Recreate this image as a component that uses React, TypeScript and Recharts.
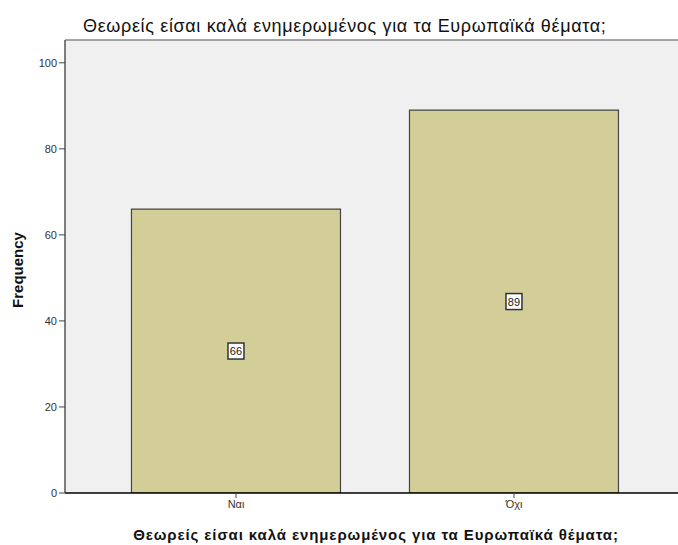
import { Bar, BarChart, CartesianGrid, LabelList, ReferenceLine, XAxis, YAxis } from "recharts";

const categories = ["Ναι", "Όχι"];
const frequencies = [66, 89];
const yTicks = [0, 20, 40, 60, 80, 100];
const title = "Θεωρείς είσαι καλά ενημερωμένος για τα Ευρωπαϊκά θέματα;";

const data = categories.map((name, i) => ({ name, value: frequencies[i] }));

const font = '"Liberation Sans", Arial, sans-serif';

function BoxLabel(props: any) {
  const { x, y, width, height, value } = props;
  const cx = x + width / 2;
  const cy = y + height / 2;
  return (
    <g>
      <rect x={cx - 8} y={cy - 8} width={16} height={16} fill="#fff" stroke="#333" strokeWidth={1.5} />
      <text x={cx} y={cy + 4} textAnchor="middle" fontSize={11} fill="#222" fontFamily={font}>
        {value}
      </text>
    </g>
  );
}

export default function App() {
  return (
    <div style={{ position: "absolute", left: 0, top: 0, width: 678, height: 545, background: "#fff" }}>
      <BarChart
        width={678}
        height={545}
        data={data}
        margin={{ top: 40, right: 0, bottom: 0, left: 0 }}
        barCategoryGap="12.4%"
      >
        <CartesianGrid fill="#f0f0f0" horizontal={false} vertical={false} />
        <ReferenceLine y={105.3} stroke="#888" strokeWidth={1.5} />
        <XAxis
          dataKey="name"
          height={52}
          padding={{ left: 32, right: 25 }}
          axisLine={{ stroke: "#000", strokeWidth: 1.5 }}
          tickLine={{ stroke: "#444" }}
          tickSize={5}
          tick={{ fontSize: 11, fill: "#333", fontFamily: font }}
        />
        <YAxis
          width={65}
          domain={[0, 105.3]}
          ticks={yTicks}
          allowDataOverflow
          axisLine={{ stroke: "#555", strokeWidth: 1.5 }}
          tickLine={{ stroke: "#444" }}
          tickSize={6}
          tick={{ fontSize: 11, fill: "#333", fontFamily: font }}
        />
        <Bar dataKey="value" fill="#d3ce97" stroke="#444" strokeWidth={1.2} isAnimationActive={false}>
          <LabelList dataKey="value" content={<BoxLabel />} />
        </Bar>
      </BarChart>
      <svg width={678} height={545} style={{ position: "absolute", left: 0, top: 0, pointerEvents: "none" }}>
        <text x={83} y={32} fontSize={18} letterSpacing={0.65} fill="#111" fontFamily={font}>
          {title}
        </text>
        <text x={376} y={540} textAnchor="middle" fontSize={15} fontWeight="bold" letterSpacing={0.9} fill="#111" fontFamily={font}>
          {title}
        </text>
        <text
          x={23}
          y={270}
          transform="rotate(-90 23 270)"
          textAnchor="middle"
          fontSize={15}
          fontWeight="bold"
          fill="#111"
          fontFamily={font}
        >
          Frequency
        </text>
      </svg>
    </div>
  );
}
